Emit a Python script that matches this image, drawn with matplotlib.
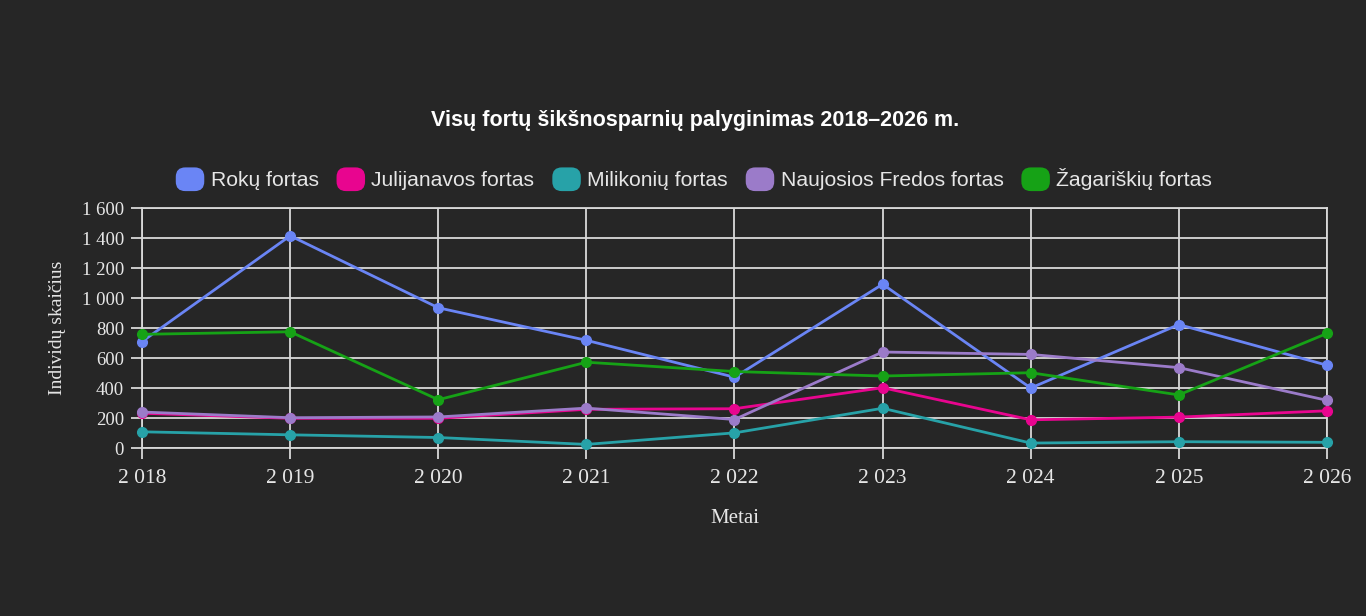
"""Visų fortų šikšnosparnių palyginimas 2018-2026 m."""

import matplotlib
matplotlib.use('Agg')
import matplotlib.pyplot as plt
from matplotlib.legend_handler import HandlerBase
from matplotlib.patches import FancyBboxPatch
from matplotlib.ticker import FuncFormatter

BG = '#262626'
GRID = '#d9d9d9'
TEXT = '#e6e6e6'

years = [2018, 2019, 2020, 2021, 2022, 2023, 2024, 2025, 2026]
series_names = ['Rokų fortas', 'Julijanavos fortas', 'Milikonių fortas',
                'Naujosios Fredos fortas', 'Žagariškių fortas']
series_colors = ['#6a85f5', '#e8058f', '#27a2a8', '#9b7bc9', '#16a216']

roku = [710, 1415, 935, 718, 472, 1092, 400, 823, 552]
julijanavos = [232, 198, 198, 258, 262, 402, 188, 206, 248]
milikoniu = [108, 88, 70, 24, 101, 265, 33, 42, 38]
naujosios_fredos = [240, 202, 207, 266, 190, 640, 624, 536, 318]
zagariskiu = [758, 775, 322, 572, 510, 480, 502, 354, 764]

series_values = [roku, julijanavos, milikoniu, naujosios_fredos, zagariskiu]


class RoundBoxHandler(HandlerBase):
    def create_artists(self, legend, orig_handle, xdescent, ydescent,
                       width, height, fontsize, trans):
        pad = 0.25 * min(width, height)
        box = FancyBboxPatch(
            (-xdescent + pad, -ydescent + pad), width - 2 * pad, height - 2 * pad,
            boxstyle=f'round,pad={pad},rounding_size={pad * 1.6}',
            facecolor=orig_handle.get_color(), edgecolor='none',
            transform=trans,
        )
        return [box]


def thousands(v, _pos):
    return f'{int(v):,}'.replace(',', ' ')


fig = plt.figure(figsize=(13.66, 6.16), dpi=100, facecolor=BG)
ax = fig.add_axes([0.104, 0.2727, 0.8674, 0.3896], facecolor=BG)

lines = []
for name, vals, col in zip(series_names, series_values, series_colors):
    ln, = ax.plot(years, vals, color=col, linewidth=2.0, marker='o',
                  markersize=7, label=name, zorder=3, clip_on=False)
    lines.append(ln)

ax.set_xlim(2018, 2026)
ax.set_ylim(0, 1600)
ax.set_xticks(years)
ax.set_yticks(range(0, 1601, 200))
ax.xaxis.set_major_formatter(FuncFormatter(thousands))
ax.yaxis.set_major_formatter(FuncFormatter(thousands))

ax.grid(True, color=GRID, linewidth=1.3, zorder=1)
for sp in ax.spines.values():
    sp.set_color(GRID)
    sp.set_linewidth(1.3)

ax.tick_params(axis='both', colors=GRID, length=8, width=1.3, labelcolor=TEXT)
ax.tick_params(axis='x', pad=7, labelsize=15.5)
ax.tick_params(axis='y', pad=5, labelsize=13.5)
for lbl in ax.get_xticklabels() + ax.get_yticklabels():
    lbl.set_family('Liberation Serif')

ax.set_xlabel('Metai', family='Liberation Serif', fontsize=15,
              color=TEXT, labelpad=15)
ax.set_ylabel('Individų skaičius', family='Liberation Serif', fontsize=14,
              color=TEXT, labelpad=11)

fig.suptitle('Visų fortų šikšnosparnių palyginimas 2018–2026 m.',
             x=0.509, y=0.804, va='center', family='Liberation Sans',
             fontweight='bold', fontsize=15.5, color='white')

leg = fig.legend(handles=lines, loc='center', bbox_to_anchor=(0.508, 0.709),
                 ncol=5, frameon=False, handler_map={type(lines[0]): RoundBoxHandler()},
                 handlelength=1.35, handleheight=1.35, handletextpad=0.3,
                 columnspacing=0.85, prop={'family': 'Liberation Sans', 'size': 15.2})
for t in leg.get_texts():
    t.set_color(TEXT)

fig.savefig('out.png', dpi=100, facecolor=BG)
